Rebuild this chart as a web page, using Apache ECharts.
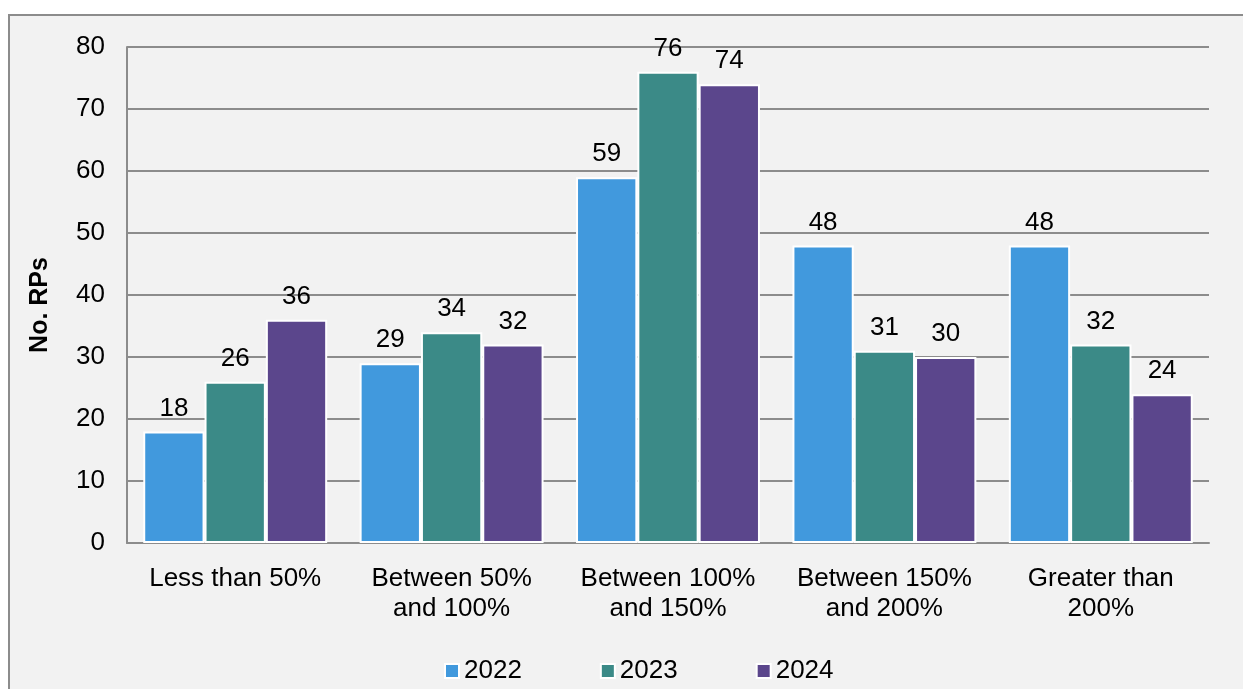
<!DOCTYPE html>
<html>
<head>
<meta charset="utf-8">
<script src="https://cdn.jsdelivr.net/npm/echarts@6/dist/echarts.min.js"></script>
<style>
  html, body { margin: 0; padding: 0; background: #ffffff; overflow: hidden; }
  .panel {
    position: absolute;
    left: 8px;
    top: 14px;
    width: 1300px;
    height: 760px;
    background: #f2f2f2;
    border: 2px solid #8c8c8c;
  }
  #chart {
    position: absolute;
    left: 0;
    top: 0;
    width: 1243px;
    height: 689px;
  }
</style>
</head>
<body>
<div class="panel"></div>
<div id="chart"></div>
<script>
var categories = ["Less than 50%", "Between 50%\nand 100%", "Between 100%\nand 150%", "Between 150%\nand 200%", "Greater than\n200%"];
var years = ["2022", "2023", "2024"];
var data2022 = [18, 29, 59, 48, 48];
var data2023 = [26, 34, 76, 31, 32];
var data2024 = [36, 32, 74, 30, 24];
var yTicks = [0, 10, 20, 30, 40, 50, 60, 70, 80];

var colors = ["#4199dd", "#3b8a87", "#5b468c"];
var font = "Liberation Sans, Arial, sans-serif";

function makeSeries(name, values, color) {
  return {
    name: name,
    type: "bar",
    data: values,
    barGap: "0%",
    barCategoryGap: "15%",
    itemStyle: { color: color, borderColor: "#ffffff", borderWidth: 2 },
    label: {
      show: true,
      position: "top",
      distance: 10,
      color: "#000000",
      fontSize: 26,
      fontFamily: font
    }
  };
}

var myChart = echarts.init(document.getElementById("chart"));
myChart.setOption({
  backgroundColor: "transparent",
  animation: false,
  color: colors,
  grid: { left: 127, right: 34, top: 47, bottom: 146 },
  legend: {
    data: years,
    bottom: 0,
    left: 439,
    itemWidth: 14,
    itemHeight: 14,
    itemGap: 78,
    icon: "rect",
    itemStyle: { borderColor: "#ffffff", borderWidth: 2 },
    textStyle: { fontSize: 26, color: "#000000", fontFamily: font }
  },
  xAxis: {
    type: "category",
    data: categories,
    axisLine: { lineStyle: { color: "#8c8c8c", width: 2 } },
    axisTick: { show: false },
    axisLabel: {
      color: "#000000",
      fontSize: 26,
      fontFamily: font,
      lineHeight: 30,
      margin: 21,
      interval: 0
    }
  },
  yAxis: {
    type: "value",
    min: yTicks[0],
    max: yTicks[yTicks.length - 1],
    interval: 10,
    name: "No. RPs",
    nameLocation: "middle",
    nameGap: 74,
    nameTextStyle: { fontSize: 25, fontWeight: "bold", color: "#000000", fontFamily: font, padding: [0, 20, 0, 0] },
    axisLine: { show: true, lineStyle: { color: "#8c8c8c", width: 2 } },
    axisTick: { show: false },
    splitLine: { show: true, lineStyle: { color: "#8c8c8c", width: 2 } },
    axisLabel: { color: "#000000", fontSize: 26, fontFamily: font, margin: 22 }
  },
  series: [
    makeSeries(years[0], data2022, colors[0]),
    makeSeries(years[1], data2023, colors[1]),
    makeSeries(years[2], data2024, colors[2])
  ]
});
</script>
</body>
</html>
